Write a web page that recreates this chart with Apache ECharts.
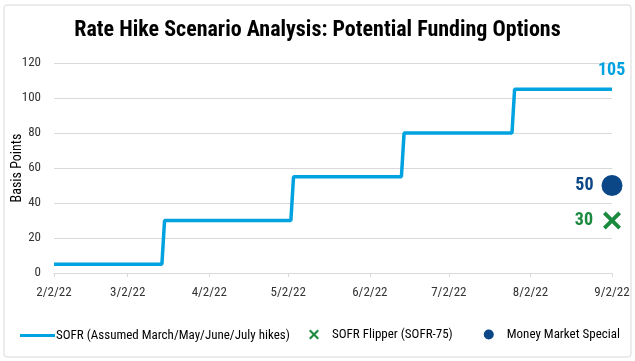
<!DOCTYPE html>
<html>
<head>
<meta charset="utf-8">
<script src="https://cdn.jsdelivr.net/npm/echarts@6/dist/echarts.min.js"></script>
<style>html,body{margin:0;padding:0;background:#fff;}#c{width:635px;height:361px;}</style>
</head>
<body>
<div id="c"></div>
<script>
const FONT = '"Liberation Sans Narrow","Arial Narrow","Roboto Condensed","Liberation Sans",sans-serif';
const titleText = 'Rate Hike Scenario Analysis: Potential Funding Options';
const xTickLabels = ['2/2/22','3/2/22','4/2/22','5/2/22','6/2/22','7/2/22','8/2/22','9/2/22'];
const sofrDates = ['2022-02-02','2022-03-15','2022-03-16','2022-05-03','2022-05-04','2022-06-14','2022-06-15','2022-07-26','2022-07-27','2022-09-02'];
const sofrValues = [5,5,30,30,55,55,80,80,105,105];
const flipperDates = ['2022-09-02'];
const flipperValues = [30];
const mmDates = ['2022-09-02'];
const mmValues = [50];
const seriesNames = ['SOFR (Assumed March/May/June/July hikes)','SOFR Flipper (SOFR-75)','Money Market Special'];

function parseLabel(s){const p=s.split('/').map(Number);return new Date(2000+p[2],p[0]-1,p[1]).getTime();}
function parseIso(s){const p=s.split('-').map(Number);return new Date(p[0],p[1]-1,p[2]).getTime();}
const tickTs = xTickLabels.map(parseLabel);
const pair = (d,v)=>d.map((x,i)=>[parseIso(x),v[i]]);
const crossPath = 'path://M3,0L10,7L17,0L20,3L13,10L20,17L17,20L10,13L3,20L0,17L7,10L0,3Z';

const chart = echarts.init(document.getElementById('c'));
chart.setOption({
  animation:false,
  title:{text:titleText,left:'center',top:14,textStyle:{fontFamily:FONT,fontSize:22,fontWeight:'bold',color:'#000'}},
  graphic:[{type:'rect',shape:{x:4,y:5,width:627,height:352,r:3},style:{fill:'none',stroke:'#d9d9d9',lineWidth:1},silent:true}],
  grid:{left:54,right:23,top:63,bottom:88,outerBoundsMode:'none'},
  legend:[
    {data:[{name:seriesNames[0],icon:'rect'}],left:15,top:324,itemWidth:35,itemHeight:3,textStyle:{fontFamily:FONT,fontSize:13,color:'#000',padding:[0,0,0,-4]}},
    {data:[{name:seriesNames[1],icon:crossPath},{name:seriesNames[2],icon:'circle'}],left:304,top:323,itemWidth:10,itemHeight:10,itemGap:31,
      itemStyle:{opacity:1},textStyle:{fontFamily:FONT,fontSize:13,color:'#000',padding:[0,0,0,8]}}
  ],
  xAxis:{type:'value',min:tickTs[0],max:tickTs[tickTs.length-1],
    axisLine:{lineStyle:{color:'#d9d9d9'}},
    axisTick:{show:true,customValues:tickTs,length:4,lineStyle:{color:'#d9d9d9'}},
    axisLabel:{customValues:tickTs,formatter:v=>{const i=tickTs.indexOf(v);return i>=0?xTickLabels[i]:'';},fontFamily:FONT,fontSize:13,color:'#333',margin:13},
    splitLine:{show:false}},
  yAxis:{type:'value',min:0,max:120,interval:20,name:'Basis Points',nameLocation:'middle',nameGap:30,nameMoveOverlap:false,
    nameTextStyle:{fontFamily:FONT,fontSize:14,color:'#000'},
    axisLine:{show:false},axisTick:{show:false},
    axisLabel:{fontFamily:FONT,fontSize:13,color:'#333',margin:13},
    splitLine:{lineStyle:{color:'#d9d9d9',width:1}}},
  series:[
    {name:seriesNames[0],type:'line',data:pair(sofrDates,sofrValues),showSymbol:false,symbol:'none',
      lineStyle:{color:'#00A2E0',width:3.5},itemStyle:{color:'#00A2E0'},
      endLabel:{show:true,formatter:p=>String(p.value[1]),color:'#00A2E0',fontFamily:FONT,fontSize:18,fontWeight:'bold',offset:[-22,-19]}},
    {name:seriesNames[1],type:'scatter',data:pair(flipperDates,flipperValues),symbol:crossPath,symbolSize:18,
      itemStyle:{color:'#1A8A3E',opacity:1},
      label:{show:true,position:'left',distance:10,formatter:p=>String(p.value[1]),color:'#1A8A3E',fontFamily:FONT,fontSize:18,fontWeight:'bold'}},
    {name:seriesNames[2],type:'scatter',data:pair(mmDates,mmValues),symbol:'circle',symbolSize:21,
      itemStyle:{color:'#0B4787',opacity:1},
      label:{show:true,position:'left',distance:8,formatter:p=>String(p.value[1]),color:'#0B4787',fontFamily:FONT,fontSize:18,fontWeight:'bold'}}
  ]
});
</script>
</body>
</html>
